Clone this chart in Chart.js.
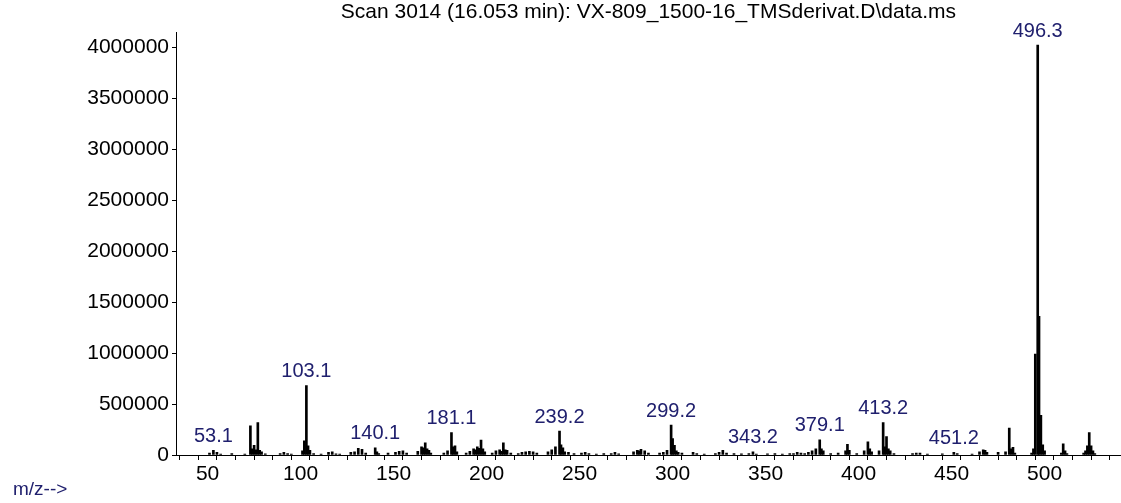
<!DOCTYPE html>
<html>
<head>
<meta charset="utf-8">
<script src="https://cdn.jsdelivr.net/npm/chart.js@4/dist/chart.umd.min.js"></script>
<style>
  body { margin: 0; background: #fff; }
  #wrap { width: 1121px; height: 503px; }
</style>
</head>
<body>
<div id="wrap"><canvas id="spec"></canvas></div>
<script>
// spectrum peaks (m/z, abundance)
let mz = [
  51, 53.1, 55, 57, 63, 70, 73, 74, 75, 76, 77, 78, 79, 81, 89, 91, 93, 95,
  101, 102, 103.1, 104, 105, 107, 111, 115, 117, 119, 121, 127, 129, 131, 133, 135,
  140.1, 141, 142, 147, 151, 153, 155, 157, 163, 165, 166, 167, 168, 169, 170,
  177, 179, 181.1, 182, 183, 184, 189, 191, 193, 194, 195, 196, 197, 198, 199,
  203, 205, 207, 208, 209, 210, 211, 213, 217, 219, 221, 223, 225, 227,
  233, 235, 237, 239.2, 240, 241, 242, 244, 247, 251, 253, 255, 259, 263, 267, 269, 271,
  279, 281, 282, 283, 285, 287, 293, 295, 297, 299.2, 300, 301, 302, 303, 305,
  311, 313, 317, 323, 325, 327, 329, 333, 337, 341, 343.2, 345, 351, 355, 359,
  363, 365, 367, 369, 371, 373, 375, 377, 379.1, 380, 381, 385, 389, 393, 394, 395, 399,
  403, 405, 406, 407, 411, 413.2, 414, 415, 416, 417, 419, 429, 431, 433, 437, 445,
  451.2, 453, 461, 465, 467, 468, 469, 475, 479, 481, 482, 483, 484,
  493, 494, 495, 496.3, 497, 498, 499, 500, 509, 510, 511, 512,
  521, 522, 523, 524, 525, 526, 527
];
let abundance = [
  20000, 45000, 25000, 10000, 15000, 8000, 285000, 60000, 95000, 50000, 317000, 45000, 30000, 12000, 15000, 25000, 15000, 8000,
  40000, 140000, 680000, 90000, 45000, 15000, 10000, 25000, 30000, 12000, 10000, 25000, 30000, 65000, 55000, 20000,
  70000, 30000, 15000, 20000, 25000, 35000, 40000, 20000, 35000, 80000, 70000, 120000, 60000, 45000, 20000,
  20000, 40000, 220000, 80000, 90000, 30000, 20000, 35000, 60000, 50000, 80000, 65000, 147000, 60000, 30000,
  20000, 40000, 50000, 35000, 120000, 50000, 45000, 20000, 15000, 25000, 30000, 35000, 30000, 20000,
  30000, 50000, 80000, 235000, 100000, 70000, 30000, 25000, 15000, 20000, 25000, 15000, 10000, 15000, 15000, 25000, 12000,
  30000, 45000, 40000, 55000, 40000, 20000, 20000, 25000, 45000, 294000, 160000, 95000, 40000, 25000, 20000,
  25000, 15000, 10000, 15000, 25000, 45000, 20000, 15000, 12000, 15000, 30000, 10000, 12000, 15000, 10000,
  15000, 15000, 25000, 20000, 15000, 25000, 40000, 60000, 150000, 60000, 40000, 15000, 20000, 40000, 105000, 45000, 15000,
  40000, 130000, 60000, 30000, 40000, 317000, 80000, 180000, 60000, 40000, 15000, 15000, 20000, 20000, 10000, 12000,
  25000, 15000, 10000, 30000, 50000, 45000, 25000, 25000, 30000, 265000, 60000, 75000, 20000,
  20000, 60000, 990000, 4020000, 1360000, 390000, 100000, 40000, 20000, 110000, 40000, 15000,
  20000, 40000, 90000, 220000, 90000, 40000, 15000
];

// labelled peaks
let peakLabels = [53.1, 103.1, 140.1, 181.1, 239.2, 299.2, 343.2, 379.1, 413.2, 451.2, 496.3];

let yTicks = [0, 500000, 1000000, 1500000, 2000000, 2500000, 3000000, 3500000, 4000000];
let xLabels = [50, 100, 150, 200, 250, 300, 350, 400, 450, 500];

let fontFam = "'Liberation Sans', Arial, sans-serif";

let xTicks = [];
for (let v = 40; v <= 540; v += 10) xTicks.push(v);

let points = mz.map((m, i) => ({ x: m, y: abundance[i] }));

// peak labels and the m/z--> note
let extras = {
    id: 'extras',
    afterDatasetsDraw(chart) {
        let ctx = chart.ctx;
        let xs = chart.scales.x, ys = chart.scales.y;
        ctx.save();
        ctx.font = '20px ' + fontFam;
        ctx.fillStyle = '#20206e';
        ctx.textAlign = 'center';
        ctx.textBaseline = 'bottom';
        peakLabels.forEach(v => {
            let i = mz.indexOf(v);
            let px = xs.getPixelForValue(v);
            let py = ys.getPixelForValue(abundance[i]);
            ctx.fillText(v.toFixed(1), px, py - 4);
        });
        ctx.textAlign = 'left';
        ctx.textBaseline = 'middle';
        ctx.font = '19px ' + fontFam;
        ctx.fillText('m/z-->', 13, 490);
        ctx.restore();
    }
};

let chart = new Chart(document.getElementById('spec'), {
    type: 'bar',
    data: {
        datasets: [{
            data: points,
            backgroundColor: '#000',
            borderWidth: 0,
            barThickness: 2
        }]
    },
    options: {
        responsive: true,
        maintainAspectRatio: false,
        animation: false,
        layout: { padding: 0 },
        plugins: {
            legend: { display: false },
            tooltip: { enabled: false },
            title: {
                display: true,
                fullSize: false,
                text: 'Scan 3014 (16.053 min): VX-809_1500-16_TMSderivat.D\\data.ms',
                color: '#000',
                font: { size: 21, family: fontFam, weight: 'normal', lineHeight: 1.15 },
                padding: { top: 0, bottom: 8 }
            }
        },
        scales: {
            x: {
                type: 'linear',
                offset: false,
                min: 33,
                max: 541,
                afterBuildTicks: axis => { axis.ticks = xTicks.map(v => ({ value: v })); },
                afterFit: axis => { axis.height = 48; },
                border: { display: true, color: '#000', width: 1 },
                grid: { drawOnChartArea: false, drawTicks: true, tickLength: 5, color: '#000' },
                ticks: {
                    autoSkip: false,
                    maxRotation: 0,
                    padding: 2,
                    color: '#000',
                    font: { size: 21, family: fontFam },
                    callback: v => xLabels.includes(v) ? String(v) : ''
                }
            },
            y: {
                min: 0,
                max: 4147000,
                afterBuildTicks: axis => { axis.ticks = yTicks.map(v => ({ value: v })); },
                afterFit: axis => { axis.width = 176; },
                border: { display: true, color: '#000', width: 1 },
                grid: { drawOnChartArea: false, drawTicks: true, tickLength: 4, color: '#000' },
                ticks: {
                    padding: 3,
                    color: '#000',
                    font: { size: 21, family: fontFam },
                    callback: v => String(v)
                }
            }
        }
    },
    plugins: [extras]
});
</script>
</body>
</html>
